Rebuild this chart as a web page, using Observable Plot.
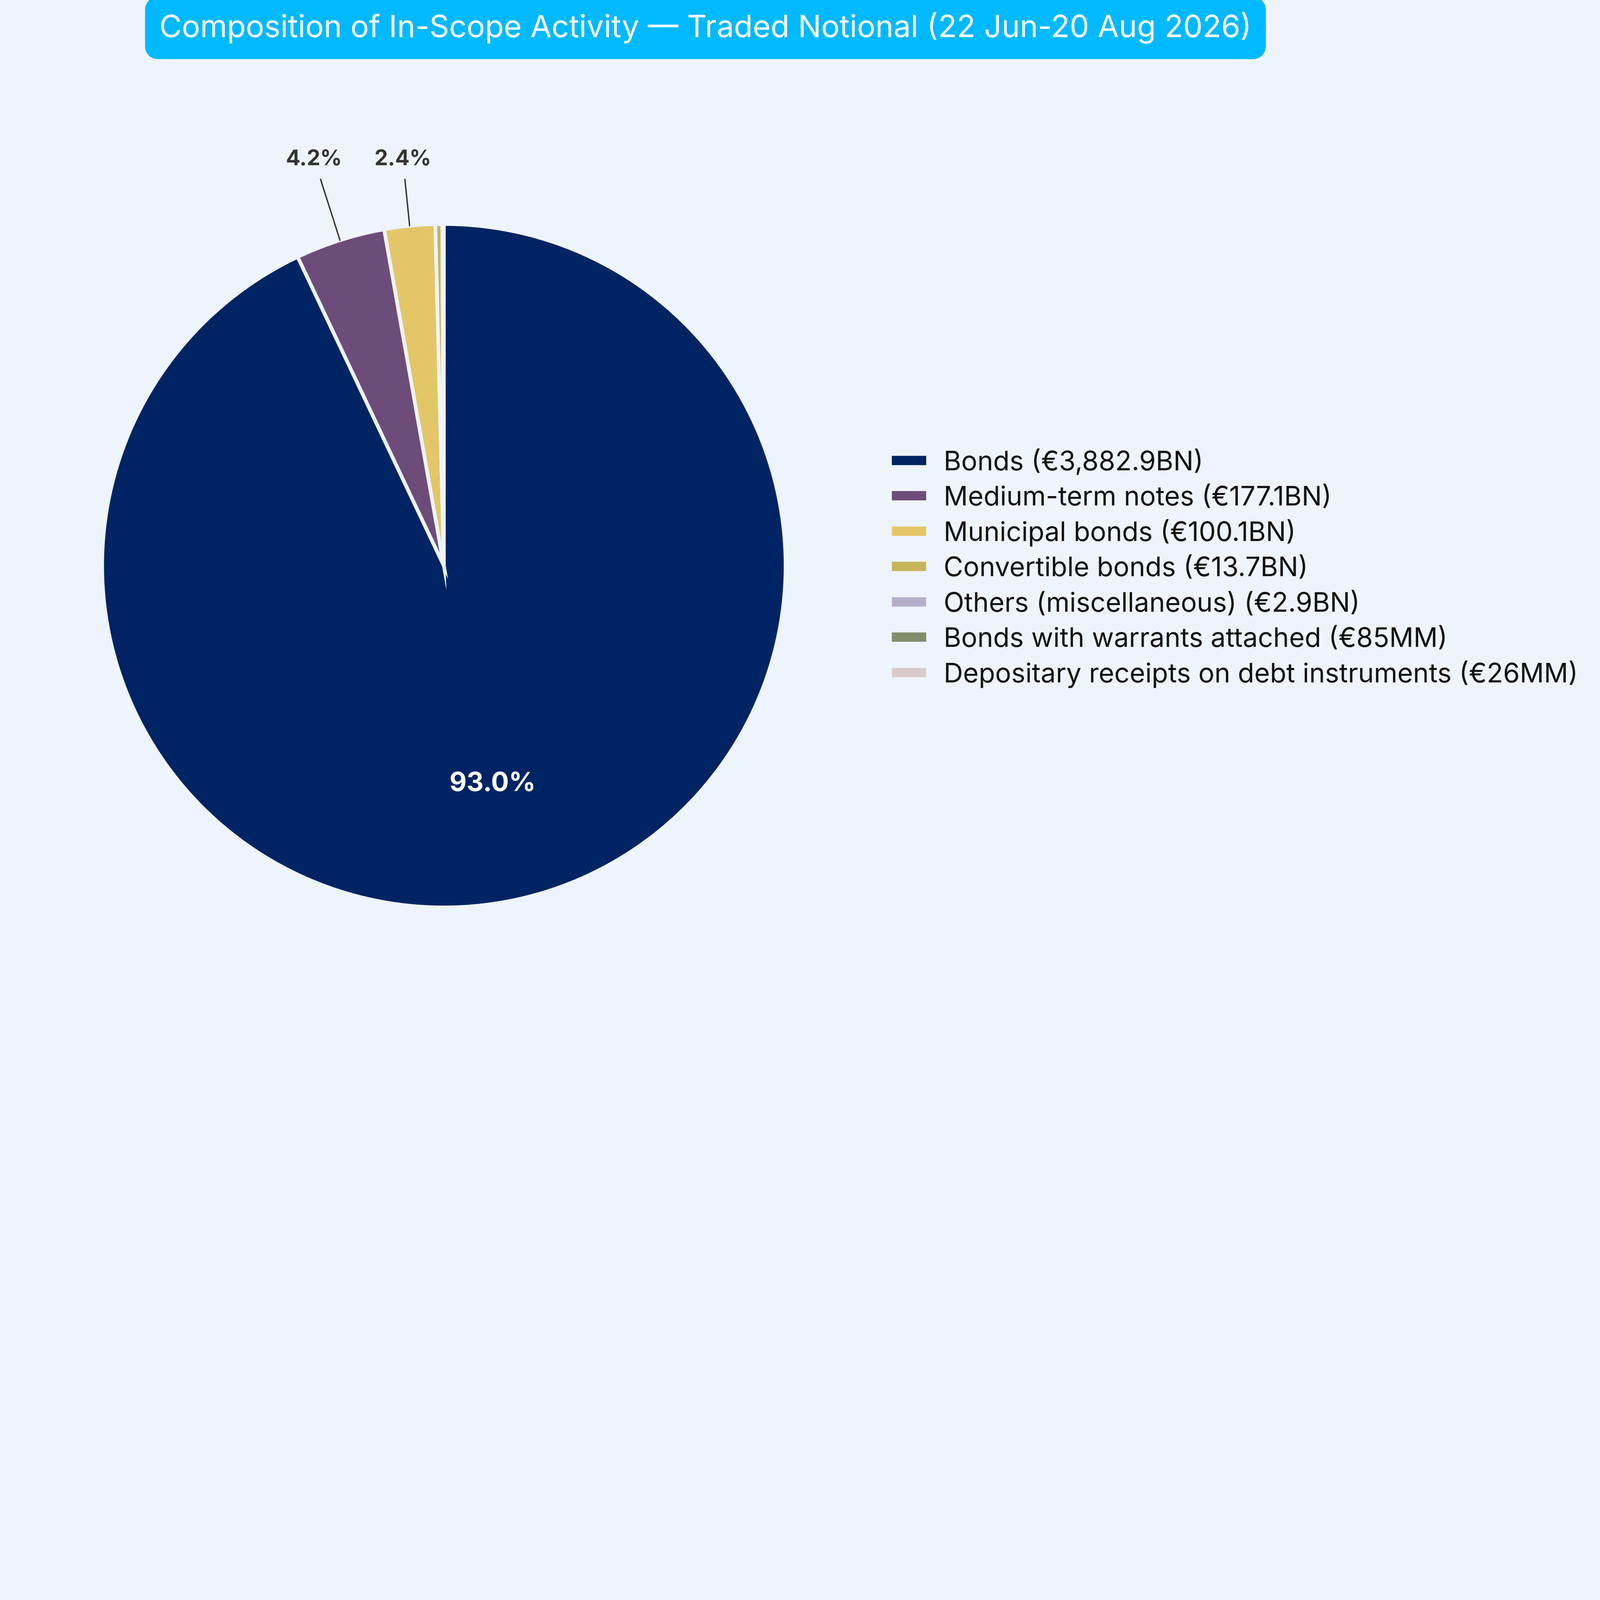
<!DOCTYPE html>
<html>
<head>
<meta charset="utf-8">
<script src="https://cdn.jsdelivr.net/npm/d3@7"></script>
<script src="https://cdn.jsdelivr.net/npm/@observablehq/plot@0.6"></script>
<style>
  html, body { margin: 0; padding: 0; background: #eef4fb; overflow: hidden; }
  #wrap { position: relative; overflow: hidden; }
  #root { position: absolute; left: 0; top: 0; width: 7038px; height: 4440px; overflow: hidden; background: #eef4fb;
          font-family: Inter, "Noto Sans", sans-serif; transform-origin: 0 0; }
  #chart { position: absolute; left: 0; top: 0; }
  #title { position: absolute; left: 638px; top: -13px; width: 4930px; height: 273px; box-sizing: border-box; padding-bottom: 18px;
           background: #00b9ff; border-radius: 55px; color: #ffffff; font-size: 135px; line-height: 1;
           display: flex; align-items: center; justify-content: center; white-space: nowrap; z-index: 2; }
  #legend { position: absolute; left: 0; top: 0; z-index: 2; }
  .row { position: absolute; left: 3923px; height: 130px; display: flex; align-items: center; white-space: nowrap; }
  .sw { width: 151px; height: 41px; margin-right: 77px; flex: none; }
  .lab { font-size: 118px; color: #111111; line-height: 1; }
</style>
</head>
<body>
<div id="wrap">
<div id="root">
  <div id="chart"></div>
  <div id="title">Composition of In-Scope Activity — Traded Notional (22 Jun-20 Aug 2026)</div>
  <div id="legend"></div>
</div>
</div>
<script>
// ---- data ----
const categories = [
  "Bonds",
  "Medium-term notes",
  "Municipal bonds",
  "Convertible bonds",
  "Others (miscellaneous)",
  "Bonds with warrants attached",
  "Depositary receipts on debt instruments"
];
const valuesBN = [3882.9, 177.1, 100.1, 13.7, 2.9, 0.085, 0.026];
const valueLabels = ["€3,882.9BN", "€177.1BN", "€100.1BN", "€13.7BN", "€2.9BN", "€85MM", "€26MM"];
const colors = ["#002463", "#6e4c7a", "#e3c667", "#c8b45a", "#b5aecb", "#7f8f6a", "#d9cbcb"];
const bg = "#eef4fb";

// ---- geometry (units of pie radius) ----
const W = 7038, H = 4440, CX = 1952, CY = 2488, R = 1503;
const total = d3.sum(valuesBN);
const arcs = d3.pie().sort(null).value(d => d)(valuesBN);

const pts = [];
arcs.forEach((p, i) => {
  const span = p.endAngle - p.startAngle;
  const n = Math.max(2, Math.ceil(span / (Math.PI / 720)));
  const angs = d3.range(n + 1).map(k => p.startAngle + span * k / n);
  const ring = [[0, 0], ...angs.map(a => [Math.sin(a), Math.cos(a)]), [0, 0], [Math.sin(angs[0]), Math.cos(angs[0])]];
  ring.forEach(([x, y], k) => pts.push({cat: categories[i], x, y, k}));
});

const pctData = arcs.map((p, i) => {
  const mid = (p.startAngle + p.endAngle) / 2;
  const pct = 100 * valuesBN[i] / total;
  return {cat: categories[i], mid, pct, text: pct.toFixed(1) + "%"};
});
const inside = pctData.filter(d => d.pct >= 10);
const outside = pctData.filter(d => d.pct >= 1 && d.pct < 10);
const labelY = 1.1916, lineY = 1.131;

const plot = Plot.plot({
  width: W,
  height: H,
  margin: 0,
  style: {background: "transparent", overflow: "visible"},
  x: {domain: [-CX / R, (W - CX) / R], axis: null},
  y: {domain: [-(H - CY) / R, CY / R], axis: null},
  color: {domain: categories, range: colors},
  marks: [
    Plot.line(pts, {x: "x", y: "y", z: "cat", fill: "cat", stroke: bg, strokeWidth: 16,
      strokeLinejoin: "miter", strokeMiterlimit: 14, strokeLinecap: "butt", curve: "linear"}),
    Plot.link(outside, {
      x1: d => Math.sin(d.mid), y1: d => Math.cos(d.mid),
      x2: d => lineY * Math.tan(d.mid), y2: lineY,
      stroke: "#333333", strokeWidth: 6, strokeLinecap: "round"
    }),
    Plot.text(outside, {
      x: d => labelY * Math.tan(d.mid), y: labelY, text: "text",
      fill: "#333333", fontSize: 94, fontWeight: 700, textAnchor: "middle", lineAnchor: "middle",
      fontFamily: "Inter, 'Noto Sans', sans-serif"
    }),
    Plot.text(inside, {
      x: d => 0.65 * Math.sin(d.mid), y: d => 0.65 * Math.cos(d.mid), text: "text",
      fill: "#ffffff", fontSize: 116, fontWeight: 700, textAnchor: "middle", lineAnchor: "middle",
      fontFamily: "Inter, 'Noto Sans', sans-serif"
    })
  ]
});
document.getElementById("chart").appendChild(plot);

// ---- legend ----
const legend = document.getElementById("legend");
categories.forEach((c, i) => {
  const row = document.createElement("div");
  row.className = "row";
  row.style.top = (2025 + i * 155.5 - 65) + "px";
  const sw = document.createElement("div");
  sw.className = "sw";
  sw.style.background = colors[i];
  const lab = document.createElement("div");
  lab.className = "lab";
  lab.textContent = `${c} (${valueLabels[i]})`;
  row.appendChild(sw);
  row.appendChild(lab);
  legend.appendChild(row);
});

// ---- fit the 7038x4440 composition into the available window ----
function fit() {
  const s = Math.min(window.innerWidth / W, window.innerHeight / H, 1);
  const wrap = document.getElementById("wrap");
  wrap.style.width = (W * s) + "px";
  wrap.style.height = (H * s) + "px";
  document.getElementById("root").style.transform = `scale(${s})`;
}
fit();
window.addEventListener("resize", fit);
</script>
</body>
</html>
